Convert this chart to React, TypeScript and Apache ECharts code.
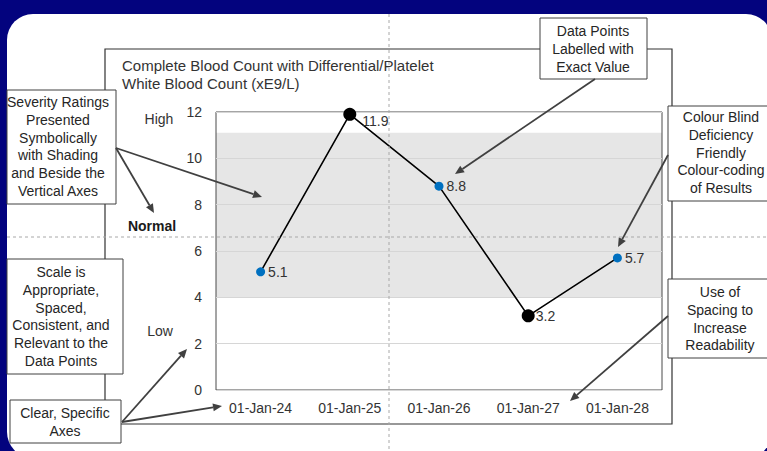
import React, { useEffect, useRef } from "react";
import * as echarts from "echarts";

const categories = ["01-Jan-24", "01-Jan-25", "01-Jan-26", "01-Jan-27", "01-Jan-28"];
const wbcValues = [5.1, 11.9, 8.8, 3.2, 5.7];
const normalLow = 4;
const normalHigh = 11.1;
const yMin = 0;
const yMax = 12;
const yInterval = 2;
const titleLines = ["Complete Blood Count with Differential/Platelet", "White Blood Count (xE9/L)"];

const FONT = '"Liberation Sans", Arial, sans-serif';
const TXT = "#333333";
const ARROW = "#404040";

function arrow(x1: number, y1: number, x2: number, y2: number) {
  const a = Math.atan2(y2 - y1, x2 - x1);
  const L = 9;
  const W = 4;
  const c = Math.cos(a);
  const s = Math.sin(a);
  const bx = x2 - L * c;
  const by = y2 - L * s;
  return [
    {
      type: "line",
      z: 11,
      silent: true,
      shape: { x1, y1, x2: bx, y2: by },
      style: { stroke: ARROW, lineWidth: 1.8 },
    },
    {
      type: "polygon",
      z: 11,
      silent: true,
      shape: {
        points: [
          [x2, y2],
          [bx + W * s, by - W * c],
          [bx - W * s, by + W * c],
        ],
      },
      style: { fill: ARROW },
    },
  ];
}

function box(x: number, y: number, w: number, h: number, cx: number, firstY: number, lines: string[]) {
  const lh = 17.8;
  return [
    {
      type: "rect",
      z: 10,
      silent: true,
      shape: { x, y, width: w, height: h },
      style: { fill: "#ffffff", stroke: "#404040", lineWidth: 1 },
    },
    {
      type: "text",
      z: 10,
      z2: 5,
      silent: true,
      style: {
        text: lines.join("\n"),
        x: cx,
        y: firstY - lh / 2,
        textAlign: "center",
        textVerticalAlign: "top",
        lineHeight: lh,
        font: `14px ${FONT}`,
        fill: "#262626",
      },
    },
  ];
}

export default function App() {
  const ref = useRef<HTMLDivElement>(null);

  useEffect(() => {
    if (!ref.current) return;
    const chart = echarts.init(ref.current, null, { renderer: "svg" });

    const pointData = wbcValues.map((v) => {
      const inRange = v >= normalLow && v <= normalHigh;
      const item: any = {
        value: v,
        symbolSize: inRange ? 9 : 13,
        itemStyle: { color: inRange ? "#0070C0" : "#000000" },
        label: { distance: inRange ? 3 : 1 },
      };
      if (v === Math.max(...wbcValues)) {
        item.label = { distance: 2, offset: [4, 7] };
      }
      return item;
    });

    const option: any = {
      animation: false,
      title: {
        text: titleLines.join("\n"),
        left: 122,
        top: 56,
        padding: 0,
        textStyle: {
          fontFamily: FONT,
          fontSize: 15,
          fontWeight: "normal",
          color: TXT,
          lineHeight: 18,
        },
      },
      grid: {
        left: 216,
        top: 112,
        width: 446,
        height: 278,
        show: true,
        borderColor: "#4a4a4a",
        borderWidth: 1,
        backgroundColor: "transparent",
        z: 3,
      },
      xAxis: {
        type: "category",
        data: categories,
        boundaryGap: true,
        z: 3,
        axisLine: { show: false },
        axisTick: { show: false },
        axisLabel: { fontFamily: FONT, fontSize: 14, color: TXT, margin: 11 },
        splitLine: { show: false },
      },
      yAxis: {
        type: "value",
        min: yMin,
        max: yMax,
        interval: yInterval,
        z: 3,
        axisLine: { show: false },
        axisTick: { show: false },
        axisLabel: { fontFamily: FONT, fontSize: 14, color: TXT, margin: 14 },
        splitLine: { show: true, lineStyle: { color: "#d6d6d6", width: 1 } },
      },
      series: [
        {
          type: "line",
          z: 1,
          data: [],
          silent: true,
          markArea: {
            silent: true,
            itemStyle: { color: "#e6e6e6" },
            data: [[{ yAxis: normalLow }, { yAxis: normalHigh }]],
          },
        },
        {
          type: "line",
          z: 4,
          data: pointData,
          symbol: "circle",
          lineStyle: { color: "#000000", width: 1.6 },
          label: {
            show: true,
            position: "right",
            fontFamily: FONT,
            fontSize: 14,
            color: TXT,
          },
        },
      ],
      graphic: {
        elements: [
          {
            type: "rect",
            z: 0,
            silent: true,
            shape: { x: 105, y: 49, width: 567, height: 375 },
            style: { fill: "#ffffff", stroke: "#333333", lineWidth: 1.2 },
          },
          {
            type: "text",
            z: 5,
            silent: true,
            style: { text: "High", x: 159, y: 119, textAlign: "center", textVerticalAlign: "middle", font: `14px ${FONT}`, fill: TXT },
          },
          {
            type: "text",
            z: 5,
            silent: true,
            style: { text: "Normal", x: 152, y: 226, textAlign: "center", textVerticalAlign: "middle", font: `bold 14px ${FONT}`, fill: "#1a1a1a" },
          },
          {
            type: "text",
            z: 5,
            silent: true,
            style: { text: "Low", x: 160, y: 331, textAlign: "center", textVerticalAlign: "middle", font: `14px ${FONT}`, fill: TXT },
          },
          ...box(7, 90, 109, 114, 58, 102, ["Severity Ratings", "Presented", "Symbolically", "with Shading", "and Beside the", "Vertical Axes"]),
          ...box(540, 18, 107, 61, 593, 31, ["Data Points", "Labelled with", "Exact Value"]),
          ...box(668, 106, 106, 95, 721, 117, ["Colour Blind", "Deficiency", "Friendly", "Colour-coding", "of Results"]),
          ...box(668, 279, 106, 79, 720, 292, ["Use of", "Spacing to", "Increase", "Readability"]),
          ...box(7, 259, 116, 115, 61, 272, ["Scale is", "Appropriate,", "Spaced,", "Consistent, and", "Relevant to the", "Data Points"]),
          ...box(10, 400, 111, 43, 65, 413, ["Clear, Specific", "Axes"]),
          ...arrow(116, 148, 262, 197),
          ...arrow(116, 148, 154, 213),
          ...arrow(595, 79, 455, 174),
          ...arrow(668, 155, 618, 247),
          ...arrow(668, 316, 570, 401),
          ...arrow(122, 422, 187, 349),
          ...arrow(122, 422, 222, 406),
          {
            type: "line",
            z: 12,
            silent: true,
            shape: { x1: 389, y1: 14, x2: 389, y2: 451 },
            style: { stroke: "#a8a8a8", lineWidth: 1, lineDash: [3, 3] },
          },
          {
            type: "line",
            z: 12,
            silent: true,
            shape: { x1: 7, y1: 237, x2: 767, y2: 237 },
            style: { stroke: "#a8a8a8", lineWidth: 1, lineDash: [3, 3] },
          },
        ],
      },
    };

    chart.setOption(option);
    return () => chart.dispose();
  }, []);

  return (
    <div
      style={{
        position: "fixed",
        left: 0,
        top: 0,
        width: 767,
        height: 451,
        background: "#03037e",
        overflow: "hidden",
      }}
    >
      <div
        style={{
          position: "absolute",
          left: 7,
          top: 14,
          width: 765,
          height: 444,
          background: "#ffffff",
          borderRadius: 26,
        }}
      />
      <div ref={ref} style={{ position: "absolute", left: 0, top: 0, width: 767, height: 451 }} />
    </div>
  );
}
